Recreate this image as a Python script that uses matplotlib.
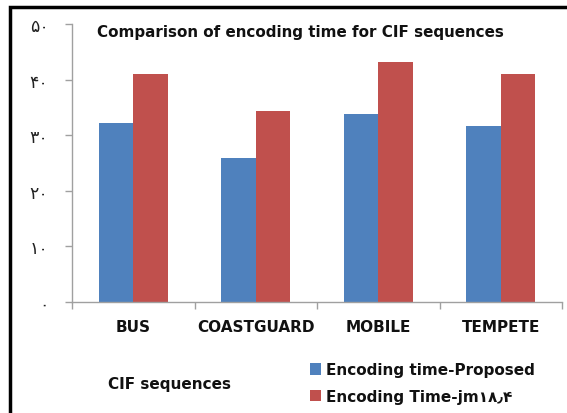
import matplotlib
matplotlib.use("Agg")
import matplotlib.pyplot as plt
from matplotlib.patches import Rectangle
import numpy as np

categories = ["BUS", "COASTGUARD", "MOBILE", "TEMPETE"]
proposed = [32.2, 25.9, 33.8, 31.7]
jm = [41.0, 34.4, 43.2, 41.0]
yticks = [0, 10, 20, 30, 40, 50]
ytick_labels = ["۰", "۱۰", "۲۰", "۳۰", "۴۰", "۵۰"]
series_names = ["Encoding time-Proposed", "Encoding Time-jm۱۸٫۴"]
title = "Comparison of encoding time for CIF sequences"
xlabel = "CIF sequences"

FONT = ["DejaVu Sans", "Noto Sans"]
plt.rcParams["font.family"] = FONT

fig = plt.figure(figsize=(5.67, 4.14), dpi=100)
ax = fig.add_axes([72/567, 1-303/414, (562-72)/567, (303-25)/414])

x = np.arange(len(categories))
w = 0.28
blue = "#4F81BD"
red = "#C0504D"
b1 = ax.bar(x - w/2, proposed, w, color=blue)
b2 = ax.bar(x + w/2, jm, w, color=red)

ax.set_xlim(-0.5, len(categories) - 0.5)
ax.set_ylim(0, 50)
ax.set_yticks(yticks)
ax.set_yticklabels(ytick_labels, fontsize=12.5, color="#222222")
ax.tick_params(axis="y", direction="out", length=5, width=1, color="#a0a0a0", pad=12)

ax.set_xticks(np.arange(len(categories) + 1) - 0.5)
ax.set_xticklabels([])
ax.tick_params(axis="x", which="major", direction="out", length=5, width=1, color="#a0a0a0")
ax.set_xticks(x, minor=True)
ax.set_xticklabels(categories, minor=True, fontsize=11, fontweight="bold", color="#111111")
ax.tick_params(axis="x", which="minor", length=0, pad=12)

for s in ["top", "right"]:
    ax.spines[s].set_visible(False)
for s in ["left", "bottom"]:
    ax.spines[s].set_color("#a0a0a0")
    ax.spines[s].set_linewidth(1)

fig.text(97/567, 1-33/414, title, fontsize=10.9, fontweight="bold", ha="left", va="center", color="#111111")
fig.text(108/567, 1-385/414, xlabel, fontsize=11, fontweight="bold", ha="left", va="center", color="#111111")

leg = fig.legend([b1, b2], series_names, loc="center left", bbox_to_anchor=(302/567, 1-384/414),
                 frameon=False, fontsize=11, handlelength=0.75, handleheight=0.75,
                 handletextpad=0.35, labelspacing=0.75, borderpad=0)
for t in leg.get_texts():
    t.set_fontweight("bold")
    t.set_color("#111111")

fig.patches.append(Rectangle((10/567, -0.1), 1.2, 1 - 8/414 + 0.1, transform=fig.transFigure,
                             fill=False, edgecolor="black", linewidth=2.5, figure=fig))

fig.savefig("out.png", dpi=100)
